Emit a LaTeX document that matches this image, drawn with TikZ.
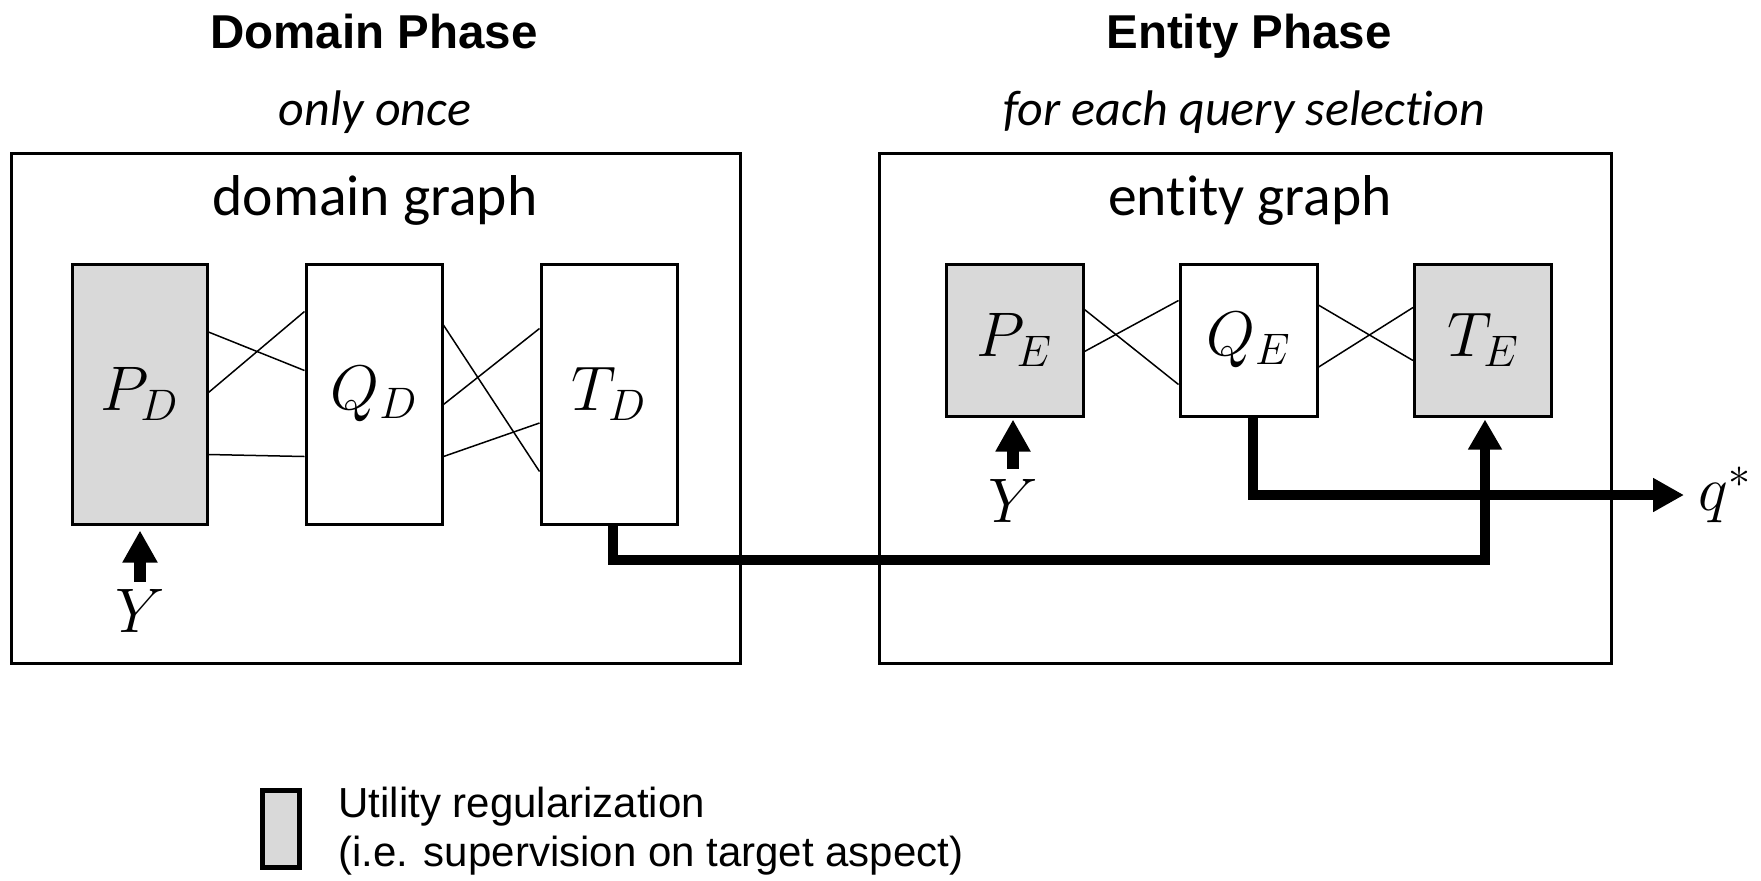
\RequirePackage{fix-cm}
\documentclass[tikz,border=0pt]{standalone}
\usepackage{fontspec}
\setmainfont{Liberation Sans}
\newfontfamily\carlito[Ligatures=NoCommon]{Carlito}
\usetikzlibrary{arrows.meta,calc}
\definecolor{boxgray}{HTML}{D9D9D9}
\tikzset{
  frame/.style={draw, line width=1.5pt, inner sep=0pt},
  varbox/.style={draw, line width=1.5pt, inner sep=0pt, font=\fontsize{31.5}{36}\selectfont},
  graybox/.style={varbox, fill=boxgray},
  whitebox/.style={varbox, fill=white},
  tallbox/.style={minimum width=68pt, minimum height=130pt},
  shortbox/.style={minimum width=68.5pt, minimum height=76pt},
  heading/.style={inner sep=0pt, font=\bfseries\fontsize{23.75}{28}\selectfont},
  phasenote/.style={inner sep=0pt, font=\carlito\itshape\fontsize{25}{30}\selectfont},
  graphtitle/.style={inner sep=0pt, font=\carlito\fontsize{28.8}{34}\selectfont},
  mathlabel/.style={inner sep=0pt, font=\fontsize{31.5}{36}\selectfont},
  legendtext/.style={inner sep=0pt, font=\fontsize{21}{25}\selectfont},
  link/.style={line width=0.75pt},
  flow/.style={line width=5pt, line join=miter},
  supply/.style={line width=6pt, -{Triangle[length=16pt,width=16.5pt]}},
}
\begin{document}
\begin{tikzpicture}[x=0.5pt,y=-0.5pt]
\useasboundingbox (0,0) rectangle (1761,880);

% phase headings
\node[heading, anchor=base] (dhead) at (374,48) {Domain Phase};
\node[heading, anchor=base] (ehead) at (1249,48) {Entity Phase};
\node[phasenote, anchor=base] (dnote) at (375,125) {only once};
\node[phasenote, anchor=base] (enote) at (1244,125) {for each query selection};

% graph frames
\node[frame, minimum width=364.5pt, minimum height=255pt] (dframe) at (375.5,408) {};
\node[frame, minimum width=366pt, minimum height=255pt] (eframe) at (1245,408) {};
\node[graphtitle, anchor=base] (dtitle) at (375,215) {domain graph};
\node[graphtitle, anchor=base] (etitle) at (1250,215) {entity graph};

% domain graph nodes
\node[graybox, tallbox, minimum width=67.5pt] (PD) at (139.5,394) {$P_D$};
\node[whitebox, tallbox] (QD) at (374,394) {$Q_D$};
\node[whitebox, tallbox] (TD) at (609,394) {$T_D$};

% entity graph nodes
\node[graybox, shortbox] (PE) at (1014.5,340) {$P_E$};
\node[whitebox, shortbox] (QE) at (1248.5,340) {$Q_E$};
\node[graybox, shortbox] (TE) at (1483,340) {$T_E$};

% domain graph edges
\draw[link] ($(PD.north east)+(0,69.5)$) -- ($(QD.north west)+(0,108)$);
\draw[link] ($(PD.north east)+(0,130)$) -- ($(QD.north west)+(0,49)$);
\draw[link] ($(PD.north east)+(0,192)$) -- ($(QD.north west)+(0,194)$);
\draw[link] ($(QD.north east)+(0,62.6)$) -- ($(TD.north west)+(0,209)$);
\draw[link] ($(QD.north east)+(0,142)$) -- ($(TD.north west)+(0,66)$);
\draw[link] ($(QD.north east)+(0,194)$) -- ($(TD.north west)+(0,160.5)$);

% entity graph edges
\draw[link] ($(PE.north east)+(0,47)$) -- ($(QE.north west)+(0,122)$);
\draw[link] ($(PE.north east)+(0,89)$) -- ($(QE.north west)+(0,38)$);
\draw[link] ($(QE.north east)+(0,42.6)$) -- ($(TE.north west)+(0,98)$);
\draw[link] ($(QE.north east)+(0,104.6)$) -- ($(TE.north west)+(0,45)$);

% supervision inputs
\node[mathlabel] (YD) at (140,610.5) {$Y$};
\node[mathlabel] (YE) at (1013,500.5) {$Y$};
\draw[supply] ($(YD.north)+(0,-7)$) -- ($(PD.south -| YD.north)+(0,5)$);
\draw[supply] ($(YE.north)+(0,-10)$) -- ($(PE.south -| YE.north)+(0,2)$);

% output
\node[mathlabel, anchor=west] (qs) at (1698,495) {$q^*$};

% transfer from domain target to entity target
\draw[flow, -{Triangle[length=15pt,width=16pt]}]
  ($(TD.south)+(4,0)$) |- ($(TE.south)+(2,142.5)$) -- ($(TE.south)+(2,2)$);
% query selection output
\draw[flow, -{Triangle[length=15.5pt,width=16pt]}, shorten >=7pt]
  ($(QE.south)+(4.5,0)$) |- (qs.west);

% legend
\node[draw, line width=2.5pt, fill=boxgray, minimum width=18.5pt, minimum height=38.5pt, inner sep=0pt] (key) at (281,829) {};
\node[legendtext, anchor=base west] (keyA) at (338,817) {Utility regularization};
\node[legendtext, anchor=base west] (keyB) at (338,866) {(i.e. supervision on target aspect)};
\end{tikzpicture}
\end{document}
